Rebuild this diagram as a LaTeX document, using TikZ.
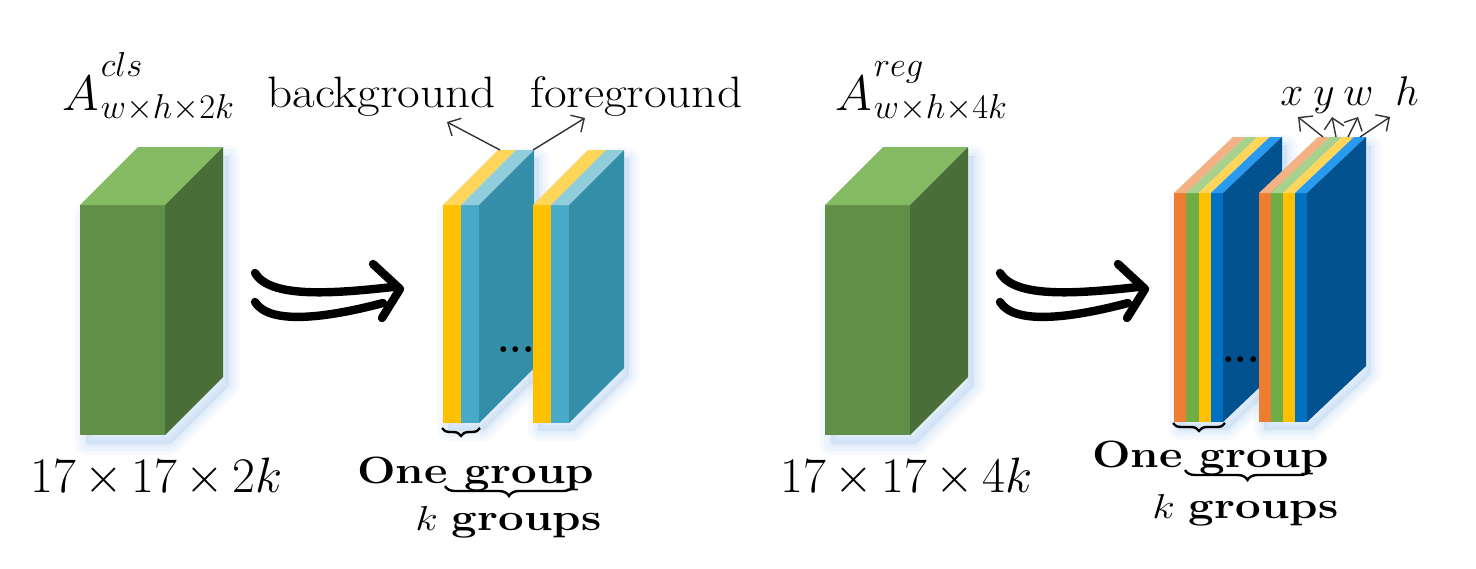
\documentclass[tikz,border=0pt]{standalone}
\usepackage{graphicx}
\usetikzlibrary{arrows.meta,decorations.pathreplacing}
\definecolor{gfront}{RGB}{97,143,71}
\definecolor{gside}{RGB}{74,110,56}
\definecolor{gtop}{RGB}{132,186,98}
\definecolor{ylw}{RGB}{255,192,0}
\definecolor{ylwT}{RGB}{255,214,90}
\definecolor{cyn}{RGB}{72,170,198}
\definecolor{cynT}{RGB}{146,205,220}
\definecolor{slabteal}{RGB}{52,142,167}
\definecolor{org}{RGB}{237,125,49}
\definecolor{orgT}{RGB}{244,177,131}
\definecolor{grn}{RGB}{112,173,71}
\definecolor{grnT}{RGB}{169,209,142}
\definecolor{blu}{RGB}{0,112,192}
\definecolor{bluT}{RGB}{40,155,240}
\definecolor{dblu}{RGB}{1,82,143}
\definecolor{glowc}{RGB}{150,190,235}
\tikzset{
  glowstyle/.style={draw=glowc, fill=glowc, line join=round, opacity=0.09},
  thinarrow/.style={draw=black!80, line width=0.7pt, -{Straight Barb[length=5pt,width=10pt,line width=0.7pt]}},
  bigarrow/.style={line width=4.2pt, line cap=round, line join=round},
  bracestyle/.style={decorate, decoration={brace, mirror, amplitude=#1}, line width=1.2pt},
  lbl/.style={anchor=base west, inner sep=0pt},
}
\newcommand\cubeglow[1]{%
  \foreach \w in {22,14,7} {\path[glowstyle, line width=\w*0.5pt] ({80+#1+6},214) -- ({138+#1+6},156) -- ({223+#1+6},156) -- ({223+#1+6},386) -- ({165+#1+6},444) -- ({80+#1+6},444) -- cycle;}}
\newcommand\cubedraw[1]{%
  \fill[gfront] ({80+#1},205) rectangle ({165+#1},435);
  \fill[gtop] ({80+#1},205) -- ({138+#1},147) -- ({223+#1},147) -- ({165+#1},205) -- cycle;
  \fill[gside] ({165+#1},205) -- ({223+#1},147) -- ({223+#1},377) -- ({165+#1},435) -- cycle;}
% #1 x0, #2 w, #3 n, #4 T, #5 B, #6 dx, #7 dy
\newcommand\slabglow[7]{%
  \pgfmathsetmacro\xR{#1+#3*#2}%
  \foreach \w in {20,12,6} {\path[glowstyle, line width=\w*0.5pt] ({#1+5},{#4+8}) -- ({#1+#6+5},{#4+#7+8}) -- ({\xR+#6+5},{#4+#7+8}) -- ({\xR+#6+5},{#5+#7+8}) -- ({\xR+5},{#5+8}) -- ({#1+5},{#5+8}) -- cycle;}}
\newcommand\slabdraw[9]{%
  \pgfmathsetmacro\xR{#1+#3*#2}%
  \foreach \fa/\fb [count=\i from 0] in {#8} {
    \fill[\fa] ({#1+\i*#2},#4) rectangle ({#1+(\i+1)*#2},#5);
    \fill[\fb] ({#1+\i*#2},#4) -- ({#1+\i*#2+#6},{#4+#7}) -- ({#1+(\i+1)*#2+#6},{#4+#7}) -- ({#1+(\i+1)*#2},#4) -- cycle;
  }
  \fill[#9] (\xR,#4) -- ({\xR+#6},{#4+#7}) -- ({\xR+#6},{#5+#7}) -- (\xR,#5) -- cycle;}
\newcommand\dblarrow[1]{%
  \begin{scope}[shift={(#1,0)}]
    \draw[bigarrow] (255,273) .. controls (270,298) and (330,294) .. (393,287);
    \draw[bigarrow] (255,302) .. controls (270,326) and (330,317) .. (383,303);
    \draw[bigarrow] (373,264) -- (400,289) -- (382,318);
  \end{scope}}
\begin{document}
\begin{tikzpicture}[x=0.5pt,y=-0.5pt]
\useasboundingbox (0,0) rectangle (1476,568);
% glows
\cubeglow{0}
\cubeglow{745}
\slabglow{443}{18}{2}{205}{423}{55}{-55}
\slabglow{533}{18}{2}{205}{423}{55}{-55}
\slabglow{1174}{12.25}{4}{193}{422}{59}{-56}
\slabglow{1259}{12}{4}{193}{422}{59}{-56}
% solids
\cubedraw{0}
\cubedraw{745}
\slabdraw{443}{18}{2}{205}{423}{55}{-55}{ylw/ylwT,cyn/cynT}{slabteal}
\slabdraw{533}{18}{2}{205}{423}{55}{-55}{ylw/ylwT,cyn/cynT}{slabteal}
\slabdraw{1174}{12.25}{4}{193}{422}{59}{-56}{org/orgT,grn/grnT,ylw/ylwT,blu/bluT}{dblu}
\slabdraw{1259}{12}{4}{193}{422}{59}{-56}{org/orgT,grn/grnT,ylw/ylwT,blu/bluT}{dblu}
% dots
\node[font=\bfseries\fontsize{20}{20}\selectfont, inner sep=0pt] (dotsL) at (516,350) {...};
\node[font=\bfseries\fontsize{20}{20}\selectfont, inner sep=0pt] (dotsR) at (1241,360) {...};
% double arrows
\dblarrow{0}
\dblarrow{745}
% labels
\node[lbl] (Acls) at (62,110) {\fontsize{32}{32}\selectfont$A$\kern1pt\rlap{\raisebox{17pt}{\fontsize{19}{19}\selectfont$cls$}}\raisebox{-4pt}{\fontsize{18}{18}\selectfont$w{\times}h{\times}2k$}};
\node[lbl] (Areg) at (835,110) {\fontsize{32}{32}\selectfont$A$\kern1pt\rlap{\raisebox{17pt}{\fontsize{19}{19}\selectfont$reg$}}\raisebox{-4pt}{\fontsize{18}{18}\selectfont$w{\times}h{\times}4k$}};
\node[lbl] (bg) at (267,107) {\scalebox{1.12}[1]{\fontsize{22}{22}\selectfont background}};
\node[lbl] (fg) at (530,107) {\scalebox{1.12}[1]{\fontsize{22}{22}\selectfont foreground}};
\node[lbl, font=\fontsize{24}{24}\selectfont] (dimL) at (30,492) {$17\,{\times}\,17\,{\times}\,2k$};
\node[lbl, font=\fontsize{24}{24}\selectfont] (dimR) at (780,492) {$17\,{\times}\,17\,{\times}\,4k$};
\node[lbl] (oneL) at (357,483) {\scalebox{1.2}[1]{\fontsize{19}{19}\selectfont\bfseries One group}};
\node[lbl] (kL) at (415,530) {\scalebox{1.2}[1]{\fontsize{19}{19}\selectfont$k$ \bfseries groups}};
\node[lbl] (oneR) at (1092,467) {\scalebox{1.2}[1]{\fontsize{19}{19}\selectfont\bfseries One group}};
\node[lbl] (kR) at (1152,518) {\scalebox{1.2}[1]{\fontsize{19}{19}\selectfont$k$ \bfseries groups}};
\node[lbl, font=\fontsize{22}{22}\selectfont] (lx) at (1280,105) {$x$};
\node[lbl, font=\fontsize{22}{22}\selectfont] (ly) at (1313,105) {$y$};
\node[lbl, font=\fontsize{22}{22}\selectfont] (lw) at (1343,105) {$w$};
\node[lbl, font=\fontsize{22}{22}\selectfont] (lh) at (1395,105) {$h$};
% label arrows
\coordinate (bgS) at (500,150); \coordinate (bgT) at (447,122);
\coordinate (fgS) at (533,150); \coordinate (fgT) at (585,118);
\draw[thinarrow] (bgS) -- (bgT);
\draw[thinarrow] (fgS) -- (fgT);
\coordinate (xS) at (1323,137); \coordinate (xT) at (1298,117);
\coordinate (yS) at (1336,137); \coordinate (yT) at (1332,117);
\coordinate (wS) at (1348,137); \coordinate (wT) at (1358,117);
\coordinate (hS) at (1360,137); \coordinate (hT) at (1390,117);
\draw[thinarrow] (xS) -- (xT);
\draw[thinarrow] (yS) -- (yT);
\draw[thinarrow] (wS) -- (wT);
\draw[thinarrow] (hS) -- (hT);
% braces
\coordinate (b1a) at (442,428); \coordinate (b1b) at (480,428);
\coordinate (b2a) at (445,486); \coordinate (b2b) at (573,486);
\coordinate (b3a) at (1173,423); \coordinate (b3b) at (1225,423);
\coordinate (b4a) at (1185,470); \coordinate (b4b) at (1310,470);
\draw[bracestyle=4pt] (b1a) -- (b1b);
\draw[bracestyle=5pt] (b2a) -- (b2b);
\draw[bracestyle=4pt] (b3a) -- (b3b);
\draw[bracestyle=5pt] (b4a) -- (b4b);
\end{tikzpicture}
\end{document}
